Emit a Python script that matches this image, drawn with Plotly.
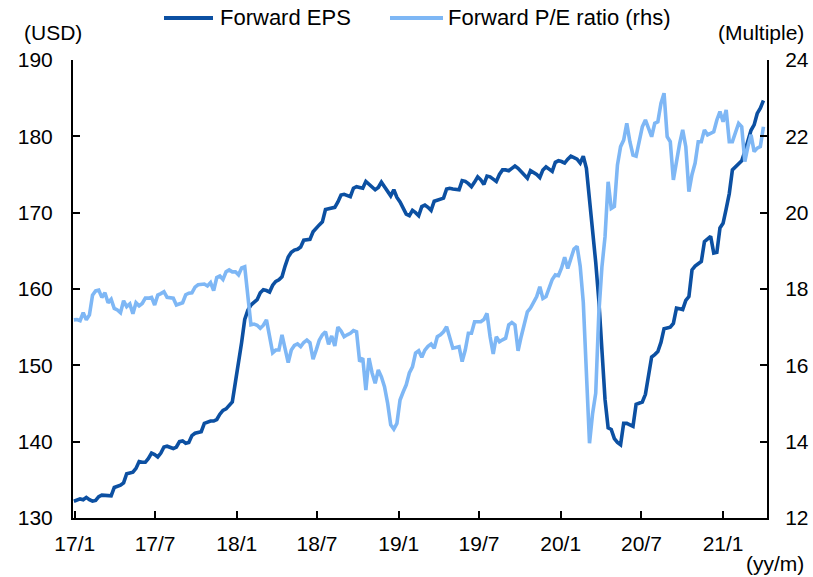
import pandas as pd
import plotly.graph_objects as go

# Weekly observations, first week ending 2016-12-30
start_date = "2016-12-30"

forward_eps = [
    132.2, 132.3, 132.5, 132.4, 132.7, 132.4, 132.2, 132.3, 132.8, 133.0,
    133.0, 132.9, 132.9, 134.0, 134.1, 134.3, 134.6, 135.8, 135.9, 136.0,
    136.5, 137.4, 137.3, 137.3, 137.8, 138.5, 138.3, 138.0, 138.5, 139.3,
    139.4, 139.2, 139.1, 139.3, 140.0, 140.1, 139.8, 139.9, 140.8, 141.1,
    141.2, 141.3, 142.4, 142.6, 142.7, 142.7, 142.9, 143.6, 144.1, 144.3,
    144.8, 145.2, 147.8, 150.2, 153.0, 156.0, 157.2, 157.9, 158.2, 158.6,
    159.5, 159.9, 159.8, 159.6, 160.5, 161.0, 161.2, 161.6, 163.0, 164.2,
    164.8, 165.1, 165.2, 165.5, 166.4, 166.5, 166.5, 167.5, 168.0, 168.4,
    168.8, 170.4, 170.5, 170.6, 170.7, 171.4, 172.3, 172.4, 172.2, 172.1,
    173.2, 173.4, 173.3, 173.2, 174.1, 173.7, 173.4, 173.0, 173.3, 174.0,
    173.4, 172.8, 172.2, 173.0, 172.0, 171.4, 170.6, 169.8, 169.6, 170.3,
    170.0, 169.6, 170.8, 171.0, 170.7, 170.3, 171.5, 171.6, 171.7, 171.9,
    173.1, 173.2, 173.1, 173.0, 173.0, 174.2, 174.1, 173.8, 173.4, 174.0,
    174.7, 174.3, 173.7, 174.8, 174.7, 174.4, 174.1, 175.0, 175.6, 175.6,
    175.5, 175.8, 176.1, 175.8, 175.4, 175.0, 174.5, 175.5, 175.3, 175.0,
    174.6, 175.6, 176.0, 175.7, 175.4, 176.6, 176.8, 176.7, 176.5, 177.0,
    177.4, 177.2, 177.0, 176.5, 177.4, 175.8, 172.0, 167.5, 163.5, 158.5,
    151.5, 145.5, 141.8, 141.6, 140.4, 139.9, 139.6, 142.4, 142.4, 142.2,
    142.0, 144.9, 145.0, 145.2, 146.2, 148.5, 151.1, 151.4, 151.8, 153.0,
    154.8, 154.9, 155.0, 155.5, 157.5, 157.4, 157.3, 158.5, 159.0, 162.5,
    163.0, 163.3, 163.6, 166.2, 166.6, 166.9, 164.7, 164.8, 168.0, 168.6,
    170.5, 172.5, 175.6, 176.0, 176.3, 176.8, 178.0, 179.5, 180.8, 181.5,
    183.0, 183.7, 184.7,
]

forward_pe = [
    17.19, 17.20, 17.17, 17.38, 17.19, 17.32, 17.84, 17.95, 17.97, 17.78,
    17.90, 17.64, 17.73, 17.49, 17.45, 17.38, 17.69, 17.54, 17.61, 17.35,
    17.64, 17.56, 17.62, 17.76, 17.76, 17.78, 17.58, 17.84, 17.88, 17.93,
    17.78, 17.77, 17.76, 17.58, 17.62, 17.64, 17.85, 17.89, 17.90, 18.05,
    18.11, 18.12, 18.13, 18.08, 18.17, 17.96, 18.30, 18.34, 18.25, 18.45,
    18.50, 18.45, 18.45, 18.37, 18.55, 18.58, 17.90, 17.06, 17.08, 17.05,
    16.97, 17.05, 17.19, 16.70, 16.33, 16.40, 16.40, 16.80, 16.40, 16.07,
    16.40, 16.52, 16.56, 16.49, 16.60, 16.66, 16.59, 16.16, 16.40, 16.66,
    16.80, 16.88, 16.55, 16.77, 16.51, 17.00, 16.90, 16.75, 16.80, 16.84,
    16.91, 16.88, 16.10, 16.19, 15.35, 16.19, 15.80, 15.53, 15.88, 15.70,
    15.44, 15.01, 14.44, 14.33, 14.48, 15.09, 15.30, 15.49, 15.80, 15.96,
    16.32, 16.38, 16.21, 16.40, 16.50, 16.56, 16.45, 16.75, 16.80, 16.88,
    17.01, 16.75, 16.45, 16.47, 16.49, 16.10, 16.40, 16.84, 16.84, 17.14,
    17.14, 17.14, 17.20, 17.36, 16.75, 16.30, 16.75, 16.62, 16.67, 16.71,
    17.06, 17.12, 17.06, 16.38, 16.75, 17.12, 17.40, 17.50, 17.63, 17.80,
    18.06, 17.75, 17.80, 18.02, 18.25, 18.37, 18.35, 18.55, 18.83, 18.54,
    18.80, 19.05, 19.12, 18.60, 17.65, 15.80, 13.96, 14.74, 15.27, 17.36,
    18.58, 19.37, 20.81, 20.11, 20.16, 21.25, 21.73, 21.90, 22.34, 21.86,
    21.51, 21.48, 21.90, 22.25, 22.43, 22.21, 21.99, 22.34, 22.38, 22.86,
    23.13, 21.99, 21.86, 20.86, 21.38, 21.80, 22.17, 21.73, 20.55, 21.00,
    21.30, 21.86, 21.86, 22.17, 22.04, 22.08, 22.12, 22.43, 22.65, 22.38,
    22.69, 21.86, 21.86, 22.10, 22.34, 22.25, 21.34, 21.73, 22.04, 21.60,
    21.69, 21.73, 22.25,
]

x_tick_dates = ["2017-01-01", "2017-07-01", "2018-01-01", "2018-07-01", "2019-01-01",
                "2019-07-01", "2020-01-01", "2020-07-01", "2021-01-01"]
x_tick_labels = ["17/1", "17/7", "18/1", "18/7", "19/1", "19/7", "20/1", "20/7", "21/1"]

series_names = ["Forward EPS", "Forward P/E ratio (rhs)"]

dates_eps = pd.date_range(start_date, periods=len(forward_eps), freq="7D")
dates_pe = pd.date_range(start_date, periods=len(forward_pe), freq="7D")

DARK = "#0C50A2"
LIGHT = "#7EB7F5"
FONT = "Liberation Sans, Arial, sans-serif"

W, H = 813, 577
L, R, T, B = 73, 767, 60, 518

fig = go.Figure()
fig.add_trace(go.Scatter(x=dates_eps, y=forward_eps, name=series_names[0], mode="lines",
                         line=dict(color=DARK, width=3.6), yaxis="y"))
fig.add_trace(go.Scatter(x=dates_pe, y=forward_pe, name=series_names[1], mode="lines",
                         line=dict(color=LIGHT, width=3.6), yaxis="y2"))


def px_x(px):
    return (px - L) / (R - L)


def px_y(py):
    return (B - py) / (B - T)


axis_common = dict(showgrid=False, zeroline=False, showline=True, linecolor="black",
                   linewidth=2, ticks="inside", ticklen=7, tickwidth=2, tickcolor="black",
                   automargin=False,
                   tickfont=dict(family=FONT, size=21, color="black"))

fig.update_layout(
    width=W, height=H,
    margin=dict(l=L, r=W - R, t=T, b=H - B, autoexpand=False),
    paper_bgcolor="white", plot_bgcolor="white",
    showlegend=False,
    font=dict(family=FONT, size=21, color="black"),
    xaxis=dict(range=["2016-12-28", "2021-04-10"], type="date",
               tickvals=x_tick_dates, ticktext=x_tick_labels,
               ticklabelstandoff=6, **axis_common),
    yaxis=dict(range=[130, 190], dtick=10, tick0=130, ticklabelstandoff=14, **axis_common),
    yaxis2=dict(range=[12, 24], dtick=2, tick0=12, overlaying="y", side="right",
                ticklabelstandoff=12, **axis_common),
)

# Legend drawn at the top
legend_items = [(164, 213, 218, series_names[0], DARK), (390, 443, 446, series_names[1], LIGHT)]
for x0, x1, xt, label, col in legend_items:
    fig.add_shape(type="line", xref="paper", yref="paper",
                  x0=px_x(x0), x1=px_x(x1), y0=px_y(18), y1=px_y(18),
                  line=dict(color=col, width=4))
    fig.add_annotation(xref="paper", yref="paper", x=px_x(xt), y=px_y(18),
                       text=label, showarrow=False, xanchor="left", yanchor="middle",
                       font=dict(family=FONT, size=22, color="black"))

unit_labels = [("(USD)", 53, 32), ("(Multiple)", 761, 32), ("(yy/m)", 775, 563)]
for text, cx, cy in unit_labels:
    fig.add_annotation(xref="paper", yref="paper", x=px_x(cx), y=px_y(cy),
                       text=text, showarrow=False, xanchor="center", yanchor="middle",
                       font=dict(family=FONT, size=21, color="black"))

fig.write_html("out.html",
               config={"displayModeBar": False},
               post_script="document.body.style.margin='0';document.body.style.overflow='hidden';")
